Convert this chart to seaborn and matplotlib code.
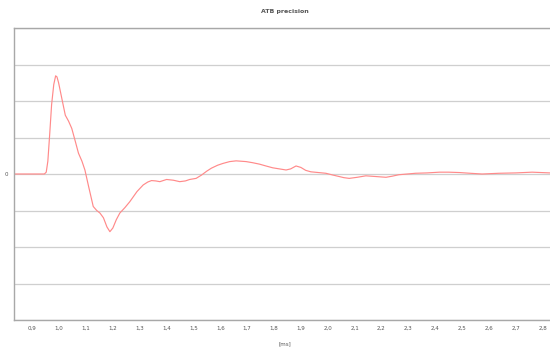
import matplotlib
matplotlib.use("Agg")
import matplotlib.pyplot as plt
import seaborn as sns
import pandas as pd

title = "ATB precision"
x_label = "[ms]"
x_ticks = [0.9, 1.0, 1.1, 1.2, 1.3, 1.4, 1.5, 1.6, 1.7, 1.8, 1.9, 2.0,
           2.1, 2.2, 2.3, 2.4, 2.5, 2.6, 2.7, 2.8]
x_tick_labels = ["0,9", "1,0", "1,1", "1,2", "1,3", "1,4", "1,5", "1,6", "1,7", "1,8",
                 "1,9", "2,0", "2,1", "2,2", "2,3", "2,4", "2,5", "2,6", "2,7", "2,8"]
y_ticks = [-4, -3, -2, -1, 0, 1, 2, 3, 4]

t_ms = [0.832, 0.900, 0.945, 0.952, 0.958, 0.965, 0.972, 0.980, 0.987, 0.992,
        0.998, 1.005, 1.012, 1.023, 1.035, 1.047, 1.060, 1.072, 1.085, 1.096,
        1.110, 1.127, 1.140, 1.152, 1.165, 1.178, 1.189, 1.200, 1.213, 1.226,
        1.245, 1.263, 1.290, 1.313, 1.330, 1.344, 1.360, 1.375, 1.400, 1.425,
        1.449, 1.470, 1.486, 1.510, 1.530, 1.550, 1.567, 1.590, 1.610, 1.635,
        1.659, 1.696, 1.720, 1.746, 1.770, 1.795, 1.820, 1.845, 1.862, 1.882,
        1.900, 1.918, 1.937, 1.965, 1.993, 2.020, 2.043, 2.060, 2.080, 2.110,
        2.142, 2.180, 2.217, 2.240, 2.265, 2.327, 2.370, 2.416, 2.450, 2.490,
        2.530, 2.575, 2.638, 2.700, 2.761, 2.827]
value = [0.00, 0.00, 0.00, 0.05, 0.35, 1.10, 1.90, 2.45, 2.69, 2.66,
         2.50, 2.25, 2.00, 1.61, 1.45, 1.25, 0.90, 0.57, 0.35, 0.11,
         -0.35, -0.89, -1.00, -1.07, -1.20, -1.45, -1.58, -1.48, -1.25, -1.07,
         -0.92, -0.76, -0.48, -0.30, -0.22, -0.18, -0.19, -0.21, -0.15, -0.17,
         -0.21, -0.19, -0.15, -0.12, -0.03, 0.08, 0.16, 0.24, 0.29, 0.34,
         0.36, 0.34, 0.31, 0.27, 0.22, 0.17, 0.14, 0.11, 0.14, 0.22,
         0.18, 0.10, 0.06, 0.04, 0.02, -0.03, -0.07, -0.10, -0.12, -0.09,
         -0.05, -0.07, -0.09, -0.06, -0.02, 0.02, 0.03, 0.05, 0.05, 0.04,
         0.02, 0.00, 0.02, 0.03, 0.05, 0.03]

df = pd.DataFrame({"t": t_ms, "v": value})

sns.set_theme(style="white")
plt.rcParams["font.family"] = ["DejaVu Sans"]

fig = plt.figure(figsize=(5.5, 3.49), dpi=100)
ax = fig.add_axes([14 / 550, 29 / 349, 1.0 - 14 / 550 + 0.01, 292 / 349])

sns.lineplot(data=df, x="t", y="v", ax=ax, color="#ff8a8a", linewidth=0.85)

ax.set_xlim(0.832, 0.832 + (550 - 14) / 268.6 + 0.01 * 550 / 268.6)
ax.set_ylim(-4, 4)
ax.set_yticks(y_ticks)
ax.set_yticklabels(["" if v != 0 else "0" for v in y_ticks])
ax.set_xticks(x_ticks)
ax.set_xticklabels(x_tick_labels)
ax.yaxis.grid(True, color="#cfcfcf", linewidth=0.9)
ax.xaxis.grid(False)
ax.set_axisbelow(True)
ax.tick_params(axis="both", length=0, labelsize=4, colors="#555555", pad=4)
for s in ax.spines.values():
    s.set_color("#a8a8a8")
    s.set_linewidth(1.0)
ax.set_xlabel(x_label, fontsize=4, color="#555555", labelpad=8)
ax.set_ylabel("")
fig.text(285 / 550, 1 - 12 / 349, title, fontsize=4.5, fontweight="bold",
         color="#555555", ha="center", va="center")

fig.savefig("out.png", dpi=100)
